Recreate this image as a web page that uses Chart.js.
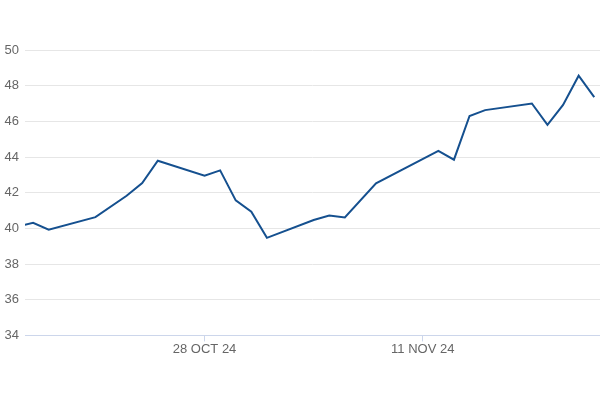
<!DOCTYPE html>
<html>
<head>
<meta charset="utf-8">
<script src="https://cdn.jsdelivr.net/npm/chart.js@4"></script>
<style>
  html, body { margin: 0; padding: 0; background: #ffffff; }
  #wrap { width: 600px; height: 400px; position: relative; }
</style>
</head>
<body>
<div id="wrap"><canvas id="c"></canvas></div>
<script>
// Trading dates (vertices of the line)
const dates = [
  "2024-10-16", "2024-10-17", "2024-10-18", "2024-10-21", "2024-10-23",
  "2024-10-24", "2024-10-25", "2024-10-28", "2024-10-29", "2024-10-30",
  "2024-10-31", "2024-11-01", "2024-11-04", "2024-11-05", "2024-11-06",
  "2024-11-08", "2024-11-12", "2024-11-13", "2024-11-14", "2024-11-15",
  "2024-11-18", "2024-11-19", "2024-11-20", "2024-11-21", "2024-11-22"
];
// Closing values
const values = [
  40.10, 40.31, 39.93, 40.63, 41.83,
  42.54, 43.79, 42.95, 43.25, 41.57,
  40.93, 39.47, 40.47, 40.72, 40.61,
  42.52, 44.34, 43.85, 46.30, 46.63,
  47.00, 45.80, 46.92, 48.56, 47.36
];
// X axis tick labels
const tickDates = ["2024-10-28", "2024-11-11"];
const tickLabels = ["28 OCT 24", "11 NOV 24"];
// Y axis ticks
const yTicks = [34, 36, 38, 40, 42, 44, 46, 48, 50];

const DAY = 86400000;
function toDay(s) {
  const p = s.split("-").map(Number);
  return Date.UTC(p[0], p[1] - 1, p[2]) / DAY;
}

const points = dates.map((d, i) => ({ x: toDay(d), y: values[i] }));
const xMin = toDay("2024-10-16") + 0.48;
const xMax = toDay("2024-11-22") + 0.37;

new Chart(document.getElementById("c"), {
  type: "line",
  data: {
    datasets: [{
      data: points,
      borderColor: "#15508f",
      borderWidth: 2,
      pointRadius: 0,
      tension: 0,
      fill: false
    }]
  },
  options: {
    responsive: true,
    maintainAspectRatio: false,
    animation: false,
    layout: { padding: { top: 50, left: 3, right: 0, bottom: 43 } },
    plugins: { legend: { display: false }, tooltip: { enabled: false } },
    scales: {
      x: {
        type: "linear",
        min: xMin,
        max: xMax,
        afterBuildTicks: (axis) => {
          axis.ticks = tickDates.map(d => ({ value: toDay(d) }));
        },
        ticks: {
          autoSkip: false,
          maxRotation: 0,
          padding: 0,
          color: "#666666",
          font: { family: "'Liberation Sans', Arial, sans-serif", size: 13 },
          callback: (v, i) => tickLabels[i]
        },
        grid: {
          drawOnChartArea: false,
          drawTicks: true,
          tickLength: 6,
          color: "#ccd6eb"
        },
        border: { display: true, color: "#ccd6eb" }
      },
      y: {
        min: yTicks[0],
        max: yTicks[yTicks.length - 1],
        afterBuildTicks: (axis) => {
          axis.ticks = yTicks.map(v => ({ value: v }));
        },
        afterFit: (axis) => { axis.width = 22; },
        ticks: {
          padding: 6,
          color: "#666666",
          font: { family: "'Liberation Sans', Arial, sans-serif", size: 13 }
        },
        grid: { color: "#e6e6e6", drawTicks: false },
        border: { display: false }
      }
    }
  }
});
</script>
</body>
</html>
